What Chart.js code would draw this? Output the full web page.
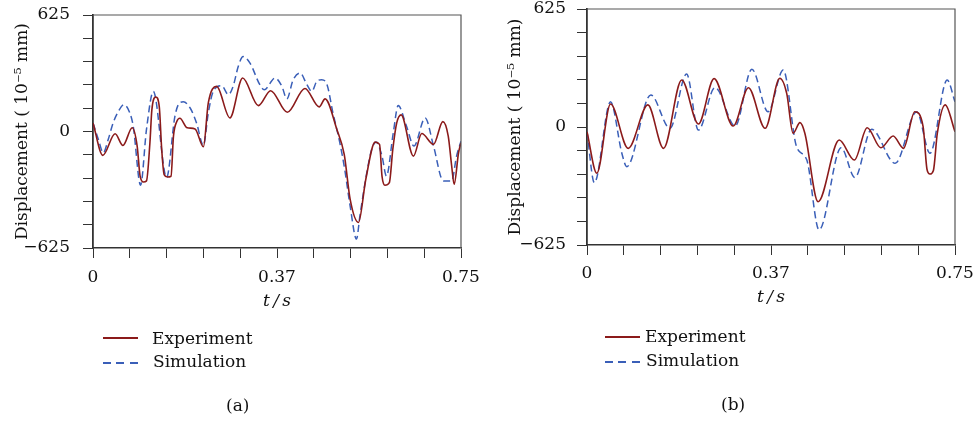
<!DOCTYPE html>
<html><head><meta charset="utf-8">
<script src="https://cdn.jsdelivr.net/npm/chart.js@4.4.0/dist/chart.umd.min.js"></script>
<style>
body{margin:0;width:975px;height:421px;background:#fff;position:relative;overflow:hidden;font-family:"DejaVu Serif",serif;color:#111}
canvas{position:absolute;top:0}
.txt{position:absolute;font-size:17px;line-height:20px;white-space:nowrap}
.solid{position:absolute;width:35px;height:1.6px;background:#8b1a1a}
.dash{position:absolute;width:35px;height:1.6px;background:repeating-linear-gradient(to right,#3a5fb8 0 8px,transparent 8px 13.5px)}
</style></head><body>
<canvas id="ca" width="487" height="421" style="left:0"></canvas>
<canvas id="cb" width="488" height="421" style="left:487px"></canvas>

<div class="solid" style="left:103px;top:337px"></div><div class="txt" style="left:152px;top:328px">Experiment</div>
<div class="dash" style="left:103px;top:362px"></div><div class="txt" style="left:153px;top:351px">Simulation</div>
<div class="txt" style="left:226px;top:395px">(a)</div>

<div class="solid" style="left:605px;top:336px"></div><div class="txt" style="left:645px;top:326px">Experiment</div>
<div class="dash" style="left:605px;top:361px"></div><div class="txt" style="left:646px;top:350px">Simulation</div>
<div class="txt" style="left:721px;top:394px">(b)</div>

<script>
// x tick positions (s) and their labels
const xTickValues = [0, 0.075, 0.15, 0.225, 0.3, 0.375, 0.45, 0.525, 0.6, 0.675, 0.75];
const xTickLabels = ["0", "", "", "", "", "0.37", "", "", "", "", "0.75"];
// y tick positions (10^-5 mm) and their labels
const yTickValues = [-625, -500, -375, -250, -125, 0, 125, 250, 375, 500, 625];
const yTickLabels = ["\u2212625", "", "", "", "", "0", "", "", "", "", "625"];

// (a) Experiment
const tA_exp = [0, 0.020, 0.045, 0.061, 0.080, 0.090, 0.096, 0.103, 0.109, 0.116, 0.120, 0.128, 0.135, 0.140, 0.145, 0.152, 0.159, 0.164, 0.171, 0.177, 0.192, 0.208, 0.225, 0.235, 0.252, 0.279, 0.305, 0.337, 0.362, 0.396, 0.432, 0.461, 0.473, 0.497, 0.512, 0.524, 0.541, 0.556, 0.575, 0.584, 0.589, 0.595, 0.604, 0.611, 0.619, 0.628, 0.653, 0.670, 0.694, 0.713, 0.724, 0.731, 0.736, 0.745, 0.750];
const vA_exp = [46, -128, -12, -75, 20, -78, -239, -271, -265, -60, 117, 185, 135, -96, -231, -244, -240, -25, 55, 71, 20, 14, -82, 153, 242, 73, 287, 139, 219, 103, 231, 132, 175, 11, -123, -363, -488, -256, -57, -69, -239, -288, -274, -96, 46, 89, -132, -11, -69, 53, -25, -185, -283, -114, -60];
// (a) Simulation
const tA_sim = [0, 0.011, 0.021, 0.031, 0.041, 0.052, 0.063, 0.075, 0.082, 0.097, 0.109, 0.123, 0.150, 0.167, 0.177, 0.184, 0.198, 0.211, 0.225, 0.235, 0.245, 0.262, 0.276, 0.286, 0.296, 0.306, 0.320, 0.340, 0.349, 0.371, 0.385, 0.395, 0.408, 0.422, 0.436, 0.446, 0.456, 0.466, 0.477, 0.489, 0.503, 0.513, 0.524, 0.537, 0.544, 0.558, 0.568, 0.577, 0.589, 0.598, 0.612, 0.622, 0.639, 0.654, 0.677, 0.694, 0.714, 0.731, 0.741, 0.750];
const vA_sim = [46, -43, -114, -43, 46, 109, 144, 100, 28, -288, 11, 215, -247, 82, 155, 159, 126, 46, -75, 100, 215, 246, 198, 246, 349, 402, 367, 251, 224, 287, 242, 175, 278, 314, 251, 215, 269, 278, 251, 100, -60, -203, -399, -577, -452, -221, -96, -57, -132, -239, -7, 139, 28, -78, 73, -78, -265, -265, -132, -52];

// (b) Experiment
const tB_exp = [0, 0.020, 0.048, 0.084, 0.124, 0.156, 0.193, 0.227, 0.259, 0.298, 0.329, 0.363, 0.393, 0.407, 0.420, 0.434, 0.444, 0.471, 0.514, 0.545, 0.571, 0.599, 0.624, 0.645, 0.668, 0.685, 0.693, 0.699, 0.706, 0.714, 0.730, 0.750];
const vB_exp = [-25, -245, 122, -113, 117, -113, 249, 16, 256, 5, 208, -7, 258, 178, -33, 23, -33, -396, -69, -175, -4, -110, -48, -113, 81, 2, -225, -249, -230, -33, 117, -25];
// (b) Simulation
const tB_sim = [0, 0.015, 0.048, 0.071, 0.081, 0.130, 0.169, 0.203, 0.227, 0.261, 0.302, 0.336, 0.369, 0.400, 0.427, 0.448, 0.473, 0.518, 0.546, 0.580, 0.628, 0.672, 0.699, 0.734, 0.750];
const vB_sim = [-25, -295, 134, -139, -210, 170, -7, 281, -16, 210, 5, 306, 81, 302, -104, -175, -545, -110, -268, -12, -192, 81, -139, 249, 134];

const FONT = '"DejaVu Serif", serif';
const EXP_COLOR = '#8b1a1a';
const SIM_COLOR = '#3a5fb8';

const boxPlugin = {
  id: 'box',
  afterDraw(chart) {
    const {ctx, chartArea: {left, right, top, bottom}} = chart;
    ctx.save();
    ctx.strokeStyle = '#555';
    ctx.lineWidth = 1.2;
    ctx.beginPath();
    ctx.moveTo(left, top);
    ctx.lineTo(right, top);
    ctx.lineTo(right, bottom);
    ctx.stroke();
    ctx.restore();
  }
};

function pts(t, v) { return t.map((x, i) => ({x: x, y: v[i]})); }

function build(id, expT, expV, simT, simV, g) {
  new Chart(document.getElementById(id), {
    type: 'line',
    data: {datasets: [
      {label: 'Experiment', data: pts(expT, expV), borderColor: EXP_COLOR, borderWidth: 1.6,
       pointRadius: 0, cubicInterpolationMode: 'monotone', fill: false},
      {label: 'Simulation', data: pts(simT, simV), borderColor: SIM_COLOR, borderWidth: 1.5,
       borderDash: [7, 4], pointRadius: 0, cubicInterpolationMode: 'monotone', fill: false}
    ]},
    options: {
      responsive: false, animation: false, devicePixelRatio: 1,
      layout: {padding: {top: g.top, right: g.right, left: 0, bottom: 0}},
      plugins: {legend: {display: false}, tooltip: {enabled: false}},
      scales: {
        x: {
          type: 'linear', min: 0, max: 0.75,
          afterBuildTicks: s => { s.ticks = xTickValues.map(v => ({value: v})); },
          afterFit: s => { s.height = g.xh; s.paddingLeft = 0; s.paddingRight = 0; },
          ticks: {autoSkip: false, maxRotation: 0, padding: g.xpad, color: '#111',
                  font: {family: FONT, size: 17}, callback: (v, i) => xTickLabels[i]},
          grid: {drawOnChartArea: false, drawTicks: true, tickLength: 10, color: '#333', lineWidth: 1},
          border: {display: true, color: '#333', width: 1.5},
          title: {display: true, text: 't\u2009/\u2009s', color: '#111',
                  font: {family: FONT, size: 17, style: 'italic'}, padding: {top: 0, bottom: g.xtb}}
        },
        y: {
          type: 'linear', min: -625, max: 625,
          afterBuildTicks: s => { s.ticks = yTickValues.map(v => ({value: v})); },
          afterFit: s => { s.width = g.yw; s.paddingTop = 0; s.paddingBottom = 0; },
          ticks: {autoSkip: false, padding: g.ypad, color: '#111',
                  font: {family: FONT, size: 17}, callback: (v, i) => yTickLabels[i]},
          grid: {drawOnChartArea: false, drawTicks: true, tickLength: 10, color: '#333', lineWidth: 1},
          border: {display: true, color: '#333', width: 1.8},
          title: {display: true, text: 'Displacement ( 10\u207B\u2075 mm)', color: '#111',
                  font: {family: FONT, size: 17}, padding: {top: g.ytt, bottom: 0}}
        }
      }
    },
    plugins: [boxPlugin]
  });
}

build('ca', tA_exp, vA_exp, tA_sim, vA_sim,
      {top: 15, right: 26, yw: 93, xh: 173, xpad: 9, xtb: 109, ypad: 13, ytt: 12});
build('cb', tB_exp, vB_exp, tB_sim, vB_sim,
      {top: 9, right: 20, yw: 100, xh: 176, xpad: 8, xtb: 113, ypad: 11, ytt: 18});
</script>
</body></html>
